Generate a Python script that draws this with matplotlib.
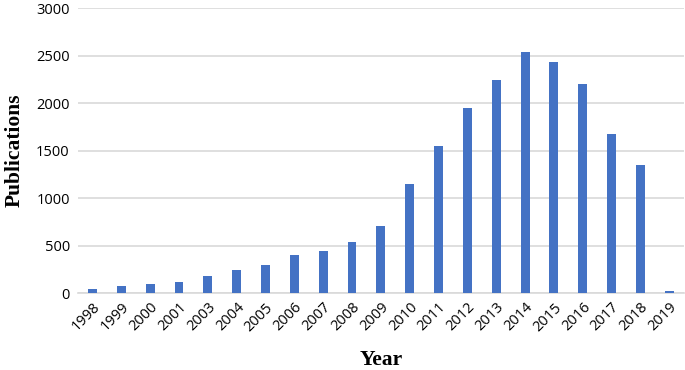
import matplotlib
matplotlib.use("Agg")
import matplotlib.pyplot as plt

years = ["1998", "1999", "2000", "2001", "2003", "2004", "2005", "2006", "2007", "2008",
         "2009", "2010", "2011", "2012", "2013", "2014", "2015", "2016", "2017", "2018", "2019"]
publications = [45, 77, 90, 119, 182, 238, 298, 403, 438, 537,
                708, 1150, 1550, 1946, 2247, 2535, 2430, 2199, 1679, 1350, 21]
yticks = [0, 500, 1000, 1500, 2000, 2500, 3000]

fig = plt.figure(figsize=(6.85, 3.70), dpi=100)
ax = fig.add_axes([0.114, 0.208, 0.884, 0.770])
x = list(range(len(years)))
ax.bar(x, publications, width=0.31, color="#4472C4", zorder=3)
ax.set_xlim(-0.5, len(years) - 0.5)
ax.set_ylim(0, 3000)
ax.set_yticks(yticks)
ax.set_xticks(x)
ax.set_xticklabels(years, rotation=45, ha="right", rotation_mode="anchor",
                   fontsize=10.5, color="#000000", family="Open Sans")
for lbl in ax.get_yticklabels():
    lbl.set_fontsize(10.5)
    lbl.set_color("#000000")
    lbl.set_family("Open Sans")
ax.grid(axis="y", color="#d9d9d9", linewidth=1.2, zorder=0)
for s in ["top", "right", "left"]:
    ax.spines[s].set_visible(False)
ax.spines["bottom"].set_color("#d9d9d9")
ax.spines["bottom"].set_linewidth(1.2)
ax.tick_params(axis="both", length=0, pad=6)
ax.tick_params(axis="x", pad=5)
ax.set_ylabel("Publications", fontsize=15.5, fontweight="bold", family="Liberation Serif", labelpad=8)
ax.set_xlabel("Year", fontsize=15.5, fontweight="bold", family="Liberation Serif", labelpad=11)
fig.savefig("out.png", dpi=100)
